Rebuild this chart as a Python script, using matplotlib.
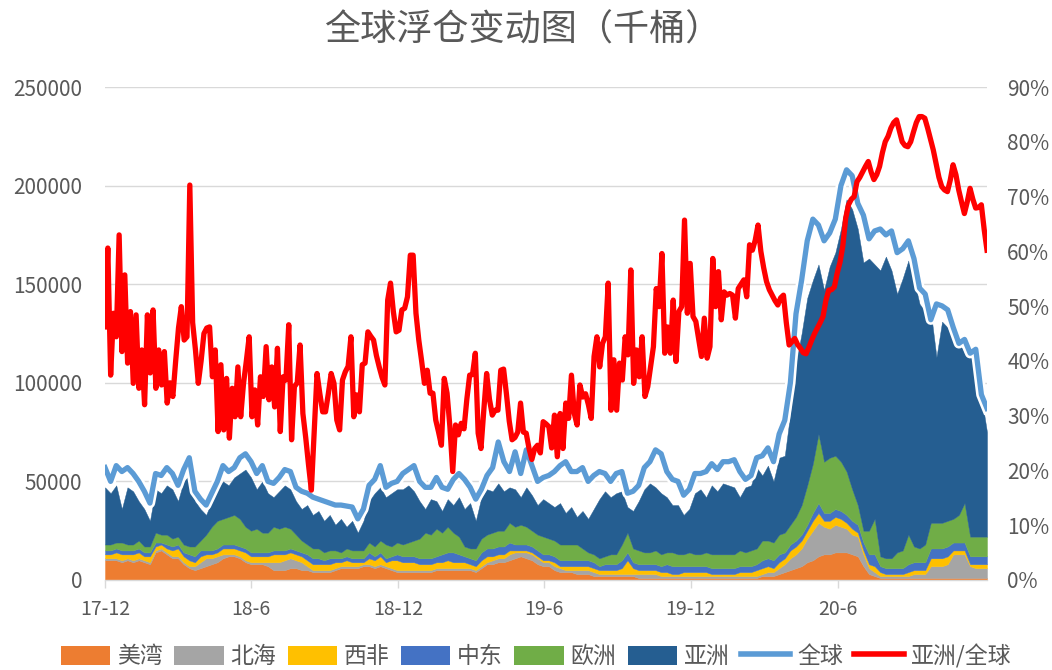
import numpy as np
import pandas as pd
import matplotlib
matplotlib.use('Agg')
import matplotlib.pyplot as plt
from matplotlib.patches import Patch
from matplotlib.lines import Line2D

plt.rcParams['font.family'] = ['Noto Sans CJK SC', 'DejaVu Sans']

# ---------------- data (thousand barrels, in units of 1000) ----------------
start_date = '2017-12-01'
n_weeks = 158

us_gulf = [10,10,10,9,10,9,10,9,8,14,
           15,13,11,11,8,6,5,6,7,8,
           9,11,12,12,11,9,8,8,8,7,
           5,5,5,6,6,5,5,4,4,4,
           4,5,6,6,6,6,7,7,6,7,
           6,5,4,4,4,4,4,4,4,5,
           5,5,5,5,5,5,4,6,8,8,
           9,9,10,11,12,11,10,8,7,7,
           5,4,4,4,3,3,3,2,2,2,
           2,2,2,2,2,1,1,1,1,1,
           1,1,1,1,1,1,1,1,1,1,
           1,1,1,1,1,1,1,2,2,2,
           3,4,5,6,7,9,10,12,13,13,
           14,14,14,13,12,7,3,2,1,1,
           1,1,1,1,1,1,1,1,1,1,
           1,1,1,1,1,1,1,1]

north_sea = [1,1,1,1,1,1,1,1,1,1,
             1,1,1,1,1,1,2,3,4,3,
             3,2,1,1,1,1,1,1,1,2,
             4,4,5,5,4,4,2,1,1,1,
             1,1,1,1,1,1,1,1,1,1,
             1,1,1,1,1,1,1,1,1,1,
             1,1,1,1,1,1,1,1,1,2,
             2,2,3,3,2,3,3,3,2,2,
             2,2,1,1,2,2,2,2,1,1,
             1,1,1,1,1,2,2,2,2,1,
             1,1,1,1,1,1,1,1,1,1,
             1,1,1,1,1,1,1,1,2,2,
             3,4,6,7,9,12,15,17,14,13,
             14,13,12,10,10,6,3,2,1,1,
             1,1,1,1,2,2,2,6,6,6,
             7,12,12,12,6,5,5,5]

west_africa = [2,2,3,3,2,3,3,2,3,2,
               2,2,3,4,3,3,2,3,2,2,
               2,3,3,3,3,4,3,3,3,3,
               4,4,3,3,3,3,3,3,3,3,
               3,3,2,3,2,2,1,3,3,4,
               2,4,5,4,4,4,3,3,3,3,
               3,4,3,3,3,2,2,3,3,2,
               2,2,2,1,1,1,1,1,1,1,
               2,1,2,2,2,2,2,2,2,2,
               2,2,3,7,3,2,2,2,2,2,
               2,1,1,2,2,2,2,2,1,1,
               1,1,1,2,2,2,3,3,3,2,
               3,3,4,4,4,4,5,5,3,4,
               4,4,3,3,2,2,2,3,2,1,
               1,1,1,2,2,2,2,4,4,4,
               4,2,2,2,1,2,2,2]

middle_east = [2,2,2,2,2,2,2,2,2,2,
               1,2,2,2,2,3,3,3,2,2,
               2,2,2,2,2,2,2,2,2,2,
               2,2,2,2,2,2,3,3,3,2,
               3,2,2,2,2,2,2,3,2,2,
               2,2,3,3,3,3,3,3,3,3,
               4,4,5,4,3,3,3,4,4,4,
               4,4,4,3,3,3,3,3,3,3,
               3,3,3,3,3,3,3,3,2,3,
               3,3,4,4,3,3,3,3,3,3,
               4,4,4,3,3,3,3,3,3,3,
               3,3,3,3,3,3,3,4,4,4,
               4,3,3,3,3,3,4,5,4,4,
               4,4,4,4,4,4,5,6,3,3,
               3,3,3,4,4,4,4,5,5,5,
               5,4,4,4,4,4,4,4]

europe = [3,3,3,4,3,3,4,3,3,5,
          4,5,4,4,4,4,5,5,8,12,
          14,13,14,15,14,11,11,12,10,10,
          12,11,12,10,8,6,5,5,5,4,
          4,4,3,4,4,4,4,5,5,6,
          7,5,6,6,7,8,10,13,12,14,
          11,13,10,9,5,5,6,7,7,8,
          8,8,10,9,10,9,8,8,9,8,
          8,8,8,8,8,6,4,4,4,4,
          5,5,8,10,7,7,6,6,7,6,
          6,7,6,6,7,6,6,7,7,7,
          7,7,7,8,7,8,8,10,9,9,
          10,10,10,12,15,20,25,35,26,28,
          27,25,22,16,10,6,12,18,5,5,
          5,8,9,15,8,7,9,13,13,13,
          13,12,14,20,10,10,10,10]

asia = [29,26,29,17,29,27,20,19,13,22,
        21,25,25,18,32,36,23,16,10,13,
        16,19,16,19,23,29,27,20,26,20,
        15,19,21,20,17,16,20,17,19,16,
        18,13,17,11,15,9,15,21,27,27,
        24,27,27,28,29,25,19,12,18,14,
        11,14,14,20,19,23,14,21,23,21,
        24,20,18,19,14,20,18,15,19,18,
        17,21,16,19,14,19,17,23,30,33,
        29,31,27,13,19,25,32,35,32,31,
        28,24,25,20,22,31,33,28,35,32,
        36,35,34,27,33,33,41,33,38,31,
        39,39,57,78,87,95,93,86,87,97,
        103,118,138,142,140,136,138,129,145,153,
        146,131,138,139,135,124,118,107,84,102,
        98,91,88,76,93,86,71,53]

global_total = [57,50,58,55,57,54,50,45,39,54,
                53,57,54,48,56,62,45,41,38,44,
                50,58,55,57,62,64,60,54,58,50,
                49,52,56,55,47,45,44,42,41,40,
                39,38,38,37.5,37,31,36,48,51,58,
                47,49,50,54,56,58,50,47,47,52,
                47,46,51,54,51,47,41,46,53,57,
                70,60,55,65,54,66,58,50,52,53,
                55,58,60,55,55,57,50,53,55,54,
                50,54,55,44,45,48,57,60,66,64,
                55,51,50,43,46,54,54,55,59,56,
                60,60,61,55,51,53,62,63,67,60,
                74,81,100,135,152,172,183,180,172,176,
                183,200,208,205,191,185,173,177,178,175,
                177,166,168,172,163,148,145,132,140,139,
                137,128,120,122,115,117,94,87]

# 亚洲/全球 (%), twice-weekly
asia_share = [46.2,60.6,37.4,48.7,44.4,63.0,41.7,55.7,39.6,49.0,
              35.9,48.4,35.0,42.0,32.0,48.4,37.8,49.3,35.0,42.0,
              35.6,41.7,32.3,36.0,33.5,40.0,46.0,49.9,43.8,44.4,
              72.1,47.0,42.0,35.9,40.0,45.0,46.0,46.2,37.1,42.0,
              27.1,39.3,27.4,36.8,25.9,35.0,29.8,38.9,29.8,35.9,
              40.0,44.4,29.8,34.7,28.3,37.1,33.5,42.6,32.9,38.9,
              31.6,42.3,27.1,37.1,36.5,46.6,25.6,35.3,36.0,42.9,
              30.4,26.0,21.0,16.4,27.0,37.7,34.0,30.7,30.7,34.0,
              37.7,35.9,29.2,27.4,36.5,38.0,39.0,44.4,29.8,33.8,
              30.7,39.3,39.6,45.3,44.5,43.8,41.0,38.9,37.0,35.6,
              51.1,54.2,49.0,45.3,45.6,49.3,49.6,51.7,59.3,59.3,
              48.7,43.8,40.0,35.9,38.3,34.1,34.1,29.2,27.0,24.6,
              36.8,34.1,28.0,19.8,28.3,26.5,28.6,27.6,33.0,37.4,
              37.5,41.4,26.8,24.0,31.0,37.7,33.0,30.1,31.0,31.0,
              38.3,38.5,34.0,29.0,25.6,26.0,27.0,32.3,27.0,26.8,
              24.0,22.0,24.0,24.6,23.2,28.9,28.5,28.0,24.1,30.1,
              22.5,30.4,24.0,32.3,29.5,37.4,30.4,28.3,35.6,33.4,
              34.0,32.0,29.5,40.8,44.4,38.9,43.2,44.4,54.2,31.0,
              40.2,31.0,39.6,36.5,44.4,41.1,56.6,35.9,42.0,37.1,
              44.4,33.5,35.3,39.0,42.6,53.2,49.9,59.6,41.4,46.2,
              41.4,51.1,39.9,49.0,49.9,65.7,48.7,57.8,48.1,47.2,
              44.0,40.8,47.8,40.5,42.6,58.7,49.9,56.3,47.5,52.6,
              52.0,52.3,52.0,47.8,53.2,54.0,54.8,51.7,61.2,60.2,
              62.0,64.8,60.0,57.0,54.5,53.0,52.0,51.0,50.2,51.5,
              52.0,47.0,42.9,43.5,44.1,43.0,42.3,41.5,41.3,42.5,
              43.8,45.0,46.0,47.0,48.1,51.0,52.9,53.0,53.5,56.0,
              58.0,61.0,66.0,68.5,69.5,70.0,72.7,73.5,74.5,75.5,
              76.4,74.5,73.1,74.0,75.5,78.0,80.0,81.0,82.5,83.5,
              84.0,82.0,80.0,79.3,79.1,80.0,81.8,83.5,84.6,84.6,
              84.3,82.5,80.5,78.5,76.0,73.5,71.8,71.2,70.9,73.0,
              75.8,74.0,71.2,69.0,66.9,69.0,71.5,69.5,67.9,68.0,
              68.5,64.0,60.2]

layer_names = ['美湾', '北海', '西非', '中东', '欧洲', '亚洲']
layer_colors = ['#ED7D31', '#A5A5A5', '#FFC000', '#4472C4', '#70AD47', '#255E91']
tick_dates = ['2017-12-01', '2018-06-01', '2018-12-01', '2019-06-01', '2019-12-01', '2020-06-01']
tick_labels = ['17-12', '18-6', '18-12', '19-6', '19-12', '20-6']

# ---------------- figure ----------------
weeks = pd.date_range(start_date, periods=n_weeks, freq='7D')
share_dates = pd.date_range(weeks[0], weeks[-1], periods=len(asia_share))
unit = 1000

fig = plt.figure(figsize=(10.52, 6.70), dpi=100)
ax = fig.add_axes([105/1052, 1-580/670, (987-105)/1052, (580-87)/670])

layers = [np.array(v, dtype=float) * unit for v in
          (us_gulf, north_sea, west_africa, middle_east, europe, asia)]
ax.stackplot(weeks, *layers, colors=layer_colors, edgecolor='face', linewidth=0.3, zorder=2)
gl = np.array(global_total, dtype=float) * unit
ax.plot(weeks, gl, color='white', lw=7.5, solid_joinstyle='round', zorder=3)
ax.plot(weeks, gl, color='#5B9BD5', lw=3.8, solid_joinstyle='round', zorder=4)

ax.set_ylim(0, 250000)
ax.set_yticks(np.arange(0, 250001, 50000))
ax.set_xlim(weeks[0], weeks[-1])
ax.set_xticks(pd.to_datetime(tick_dates))
ax.set_xticklabels(tick_labels)
ax.grid(axis='y', color='#D9D9D9', lw=1.0, zorder=0)
ax.set_axisbelow(True)
for s in ('top', 'left', 'right'):
    ax.spines[s].set_visible(False)
ax.spines['bottom'].set_color('#D9D9D9')
ax.spines['bottom'].set_linewidth(1.0)
ax.tick_params(axis='x', direction='out', length=6, color='#D9D9D9', width=1,
               labelsize=14, labelcolor='#595959', pad=8)
ax.tick_params(axis='y', length=0, labelsize=15, labelcolor='#595959', pad=16.5)

ax2 = ax.twinx()
ax2.plot(share_dates, asia_share, color='#FF0000', lw=3.8, solid_joinstyle='round', zorder=5)
ax2.set_ylim(0, 90)
ax2.set_yticks(np.arange(0, 91, 10))
ax2.set_yticklabels([f'{v}%' for v in range(0, 91, 10)])
for s in ('top', 'left', 'right', 'bottom'):
    ax2.spines[s].set_visible(False)
ax2.tick_params(axis='y', length=0, labelsize=15, labelcolor='#595959', pad=14.5)
ax2.set_xlim(weeks[0], weeks[-1])

fig.text(0.497, 0.955, '全球浮仓变动图（千桶）', ha='center', va='center',
         fontsize=26, color='#595959')

handles = [Patch(facecolor=c, edgecolor='none') for c in layer_colors]
handles += [Line2D([], [], color='#5B9BD5', lw=4), Line2D([], [], color='#FF0000', lw=4)]
labels = layer_names + ['全球', '亚洲/全球']
fig.legend(handles, labels, ncol=8, loc='center', bbox_to_anchor=(0.5095, 0.021),
           frameon=False, fontsize=16.5, handlelength=2.15, handletextpad=0.3,
           columnspacing=0.5, handleheight=0.9, labelcolor='#595959',
           borderaxespad=0, borderpad=0)

fig.savefig('out.png', dpi=100)
